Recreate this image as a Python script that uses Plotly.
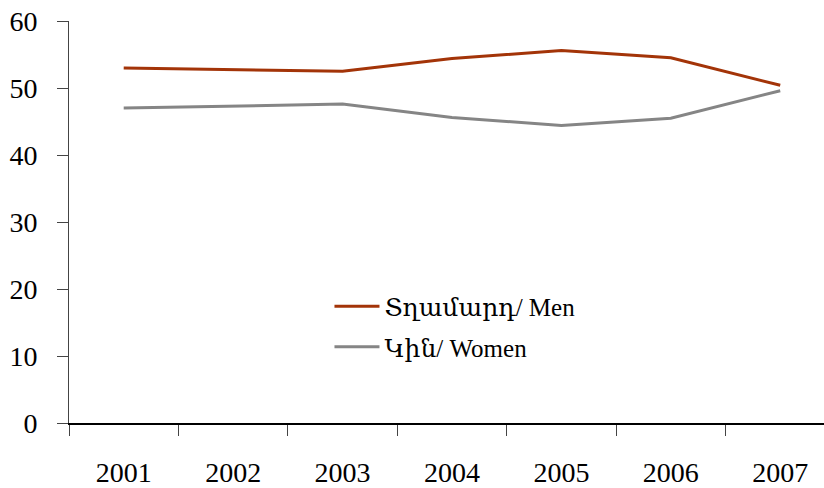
import plotly.graph_objects as go

years = ["2001", "2002", "2003", "2004", "2005", "2006", "2007"]
men = [53.0, 52.7, 52.5, 54.4, 55.6, 54.5, 50.4]
women = [47.0, 47.3, 47.6, 45.6, 44.4, 45.5, 49.6]

men_name = "Տղամարդ/ Men"
women_name = "Կին/ Women"

FONT = "Liberation Serif, DejaVu Serif, Times New Roman, serif"


def main():
    fig = go.Figure()
    fig.add_trace(go.Scatter(
        x=years, y=men, name=men_name, mode="lines",
        line=dict(color="#A33408", width=3), legendgroup="m",
    ))
    fig.add_trace(go.Scatter(
        x=years, y=women, name=women_name, mode="lines",
        line=dict(color="#858585", width=3), legendgroup="w",
    ))

    fig.update_layout(
        width=824, height=488,
        margin=dict(l=69, r=0, t=21, b=65, autoexpand=False),
        paper_bgcolor="white", plot_bgcolor="white",
        font=dict(family=FONT, color="black"),
        showlegend=True,
        legend=dict(
            x=0.345, y=0.24, xanchor="left", yanchor="middle",
            font=dict(size=25, family=FONT),
            bgcolor="rgba(0,0,0,0)", itemwidth=45,
            traceorder="grouped", tracegroupgap=5,
        ),
    )
    fig.update_xaxes(
        type="category", range=[-0.5, 6.4],
        showgrid=False, zeroline=False, automargin=False,
        showline=True, linecolor="black", linewidth=1.5,
        ticks="outside", tickson="boundaries", ticklen=11,
        tickcolor="#444", tickwidth=1,
        tickfont=dict(size=28, family=FONT),
        ticklabelstandoff=24,
    )
    fig.update_yaxes(
        range=[0, 60], dtick=10,
        showgrid=False, zeroline=False, automargin=False,
        showline=True, linecolor="#444", linewidth=1,
        ticks="outside", ticklen=11, tickcolor="#444",
        tickfont=dict(size=28, family=FONT),
        ticklabelstandoff=14,
    )

    # page body has a default 8px margin; drop it so the figure fills the window
    fig.write_html(
        "out.html",
        config={"displayModeBar": False},
        post_script="document.body.style.margin='0';",
    )


if __name__ == "__main__":
    main()
